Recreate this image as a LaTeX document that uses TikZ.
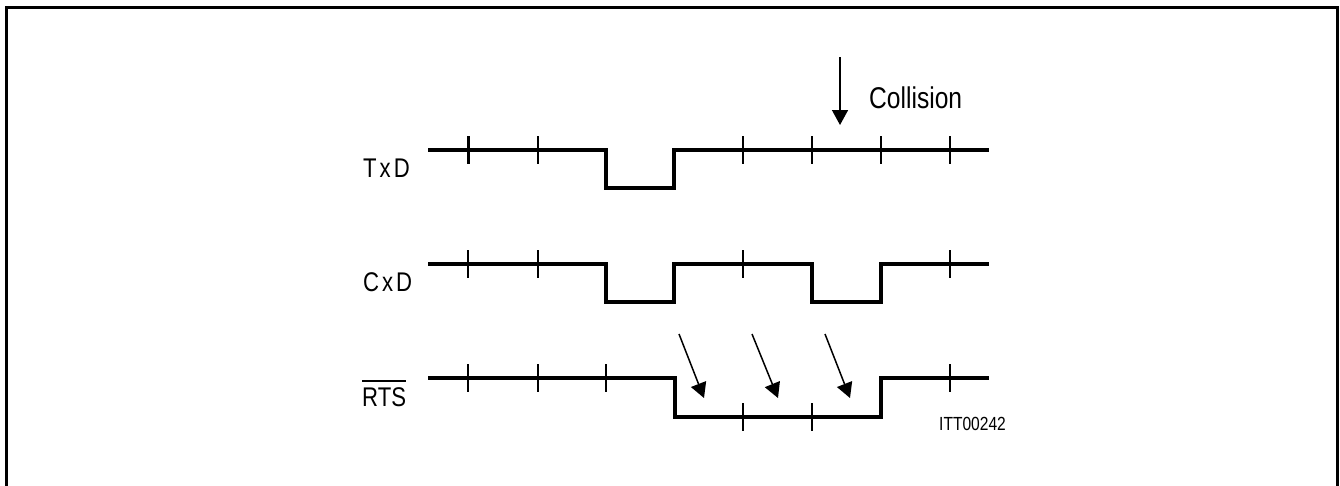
\documentclass[tikz,border=0pt]{standalone}
\usepackage{fontspec}
\setmainfont{Liberation Sans}
\newfontfamily\narrowfont{Liberation Sans}[FakeStretch=0.82]
\usetikzlibrary{arrows.meta}
\begin{document}
\begin{tikzpicture}[x=1pt,y=-1pt,
  sig/.style={line width=4pt, line join=miter, line cap=butt},
  tickmark/.style={line width=2pt},
  ptr/.style={line width=1.5pt, -{Triangle[length=15pt,width=16pt]}},
  lbl/.style={font=\narrowfont\fontsize{27}{32}\selectfont, anchor=base west, inner sep=0pt},
  colfont/.style={font=\narrowfont\fontsize{30}{36}\selectfont, anchor=base west, inner sep=0pt},
  idfont/.style={font=\narrowfont\fontsize{19}{22}\selectfont, anchor=base west, inner sep=0pt}]
\useasboundingbox (0,0) rectangle (1340,485);
% frame (open at bottom)
\draw[line width=3pt] (6.5,490) -- (6.5,7.5) -- (1337.5,7.5) -- (1337.5,490);

% TxD
\draw[sig] (428,150) -- (606,150) -- (606,188) -- (674,188) -- (674,150) -- (989,150);
\draw[line width=3pt] (468,136) -- (468,164);
\foreach \x in {538,743,812,881,950} \draw[tickmark] (\x,136) -- (\x,164);

% CxD
\draw[sig] (428,264) -- (606,264) -- (606,302) -- (674,302) -- (674,264) -- (812,264) -- (812,302) -- (881,302) -- (881,264) -- (989,264);
\foreach \x in {468,538,743,950} \draw[tickmark] (\x,250) -- (\x,278);

% RTS
\draw[sig] (428,378) -- (675,378) -- (675,417) -- (881,417) -- (881,378) -- (989,378);
\foreach \x in {468,538,606,950} \draw[tickmark] (\x,364) -- (\x,392);
\foreach \x in {743,812} \draw[tickmark] (\x,403) -- (\x,431);

% labels
\node[lbl] (txd) at (363,177) {T\kern3pt x\kern3pt D};
\node[lbl] (cxd) at (363,291) {C\kern3pt x\kern3pt D};
\node[lbl] (rts) at (362,406) {RTS};
\draw[line width=1.5pt] ([yshift=6pt]rts.north west) -- ([yshift=6pt]rts.north east);

% Collision
\node[colfont] (col) at (869,108) {Collision};
\coordinate (colA) at (840,57);
\coordinate (colB) at (840,125);
\draw[ptr] (colA) -- (colB);

% RTS arrows
\coordinate (a1) at (679,334); \coordinate (b1) at (704,398);
\coordinate (a2) at (752,334); \coordinate (b2) at (778,398);
\coordinate (a3) at (825,334); \coordinate (b3) at (850,398);
\draw[ptr] (a1) -- (b1);
\draw[ptr] (a2) -- (b2);
\draw[ptr] (a3) -- (b3);

% id
\node[idfont] (id) at (939,430) {ITT00242};
\end{tikzpicture}
\end{document}
